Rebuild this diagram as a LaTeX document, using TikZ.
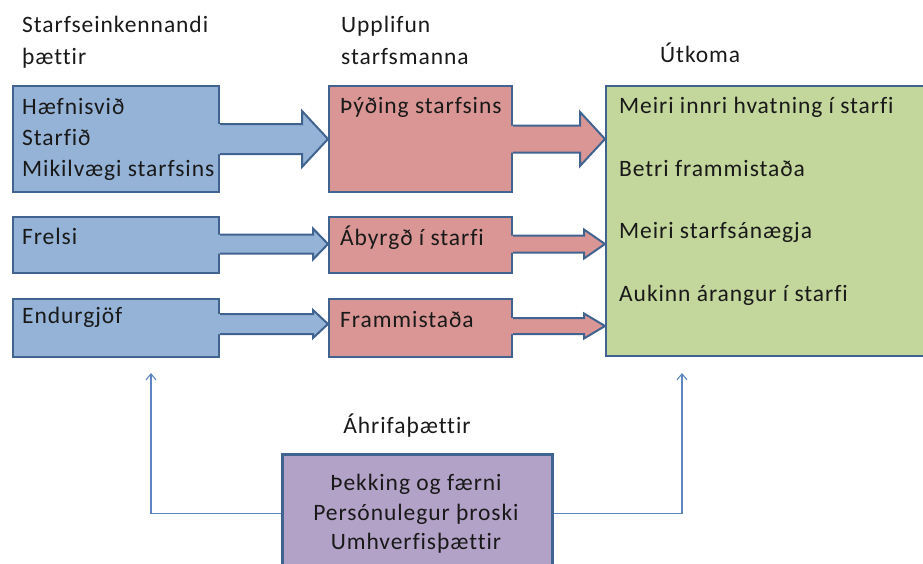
\documentclass[tikz,border=0pt]{standalone}
\usepackage{fontspec}
\setmainfont{Carlito}[LetterSpace=4,Ligatures=CommonOff]
\usetikzlibrary{arrows.meta,calc}
\definecolor{bluefill}{HTML}{95B3D7}
\definecolor{redfill}{HTML}{D99694}
\definecolor{greenfill}{HTML}{C3D69B}
\definecolor{purplefill}{HTML}{B3A2C7}
\definecolor{edge}{HTML}{41638F}
\definecolor{thinline}{HTML}{5B86C0}
\begin{document}
\begin{tikzpicture}[x=1pt,y=-1pt,
  box/.style={draw=edge,line width=2pt,anchor=north west,inner sep=0pt},
  txt/.style={anchor=base west,inner sep=0pt,font=\fontsize{23.5}{28}\selectfont,text=black!90},
  ctxt/.style={anchor=base,inner sep=0pt,font=\fontsize{23.5}{28}\selectfont,text=black!90},
  feed/.style={draw=thinline,line width=1.1pt,-{Straight Barb[length=6pt,width=10pt]}}
]
\useasboundingbox (0,0) rectangle (923,563);
% boxes
\node[box,fill=bluefill,minimum width=206pt,minimum height=106pt] (b1) at (12,85) {};
\node[box,fill=bluefill,minimum width=206pt,minimum height=56pt] (b2) at (12,216) {};
\node[box,fill=bluefill,minimum width=206pt,minimum height=58pt] (b3) at (12,298) {};
\node[box,fill=redfill,minimum width=183pt,minimum height=106pt] (r1) at (328,85) {};
\node[box,fill=redfill,minimum width=183pt,minimum height=56pt] (r2) at (328,216) {};
\node[box,fill=redfill,minimum width=183pt,minimum height=58pt] (r3) at (328,298) {};
\node[box,fill=greenfill,minimum width=330pt,minimum height=270pt] (g) at (605,85) {};
\node[box,fill=purplefill,line width=3pt,minimum width=270pt,minimum height=118pt] (p) at (281,453) {};
% block arrows: #1 start node, #2 y offset, #3 shaft half, #4 head half, #5 head length, #6 end node, #7 fill
\newcommand{\blockarr}[7]{%
  \path ($(#1.east)+(0,#2)$) coordinate (s) ($(#6.west)+(0,0)$) coordinate (t0);
  \path (s -| t0) coordinate (t);
  \fill[#7] ($(s)+(-2,-#3)$) -- ($(t)+(-#5,-#3)$) -- ($(t)+(-#5,-#4)$) -- (t) -- ($(t)+(-#5,#4)$) -- ($(t)+(-#5,#3)$) -- ($(s)+(-2,#3)$) -- cycle;
  \draw[edge,line width=2pt,line join=miter] ($(s)+(0,-#3)$) -- ($(t)+(-#5,-#3)$) -- ($(t)+(-#5,-#4)$) -- (t) -- ($(t)+(-#5,#4)$) -- ($(t)+(-#5,#3)$) -- ($(s)+(0,#3)$);
}
\blockarr{b1}{0}{15}{28}{26}{r1}{bluefill}
\blockarr{b2}{-1}{9.5}{15.5}{15}{r2}{bluefill}
\blockarr{b3}{-4}{10}{14}{15}{r3}{bluefill}
\blockarr{r1}{0}{13.5}{27}{25}{g}{redfill}
\blockarr{r2}{-1}{8.5}{14.5}{21}{g}{redfill}
\blockarr{r3}{-2}{8}{12.5}{21}{g}{redfill}
% headings
\node[txt] (h1a) at (22,32) {Starfseinkennandi};
\node[txt] (h1b) at (22,64) {þættir};
\node[txt] (h2a) at (341,32) {Upplifun};
\node[txt] (h2b) at (341,64) {starfsmanna};
\node[txt] (h3) at (660,62) {Útkoma};
% box texts
\node[txt] at (22,114) {Hæfnisvið};
\node[txt] at (22,145) {Starfið};
\node[txt] at (22,176) {Mikilvægi starfsins};
\node[txt] at (22,244) {Frelsi};
\node[txt] at (22,323) {Endurgjöf};
\node[txt] at (340,113) {Þýðing starfsins};
\node[txt] at (340,245) {Ábyrgð í starfi};
\node[txt] at (340,327) {Frammistaða};
\node[txt] at (619,113) {Meiri innri hvatning í starfi};
\node[txt] at (619,176) {Betri frammistaða};
\node[txt] at (619,238) {Meiri starfsánægja};
\node[txt] at (619,301) {Aukinn árangur í starfi};
\node[ctxt] (ah) at (407,433) {Áhrifaþættir};
\node[ctxt] at (416,490) {Þekking og færni};
\node[ctxt] at (416,520) {Persónulegur þroski};
\node[ctxt] at (416,549) {Umhverfisþættir};
% feedback connectors
\coordinate (lt) at (151,373);
\coordinate (rt) at (682,373);
\draw[feed] (p.west) -| (lt);
\draw[feed] (p.east) -| (rt);
\end{tikzpicture}
\end{document}
